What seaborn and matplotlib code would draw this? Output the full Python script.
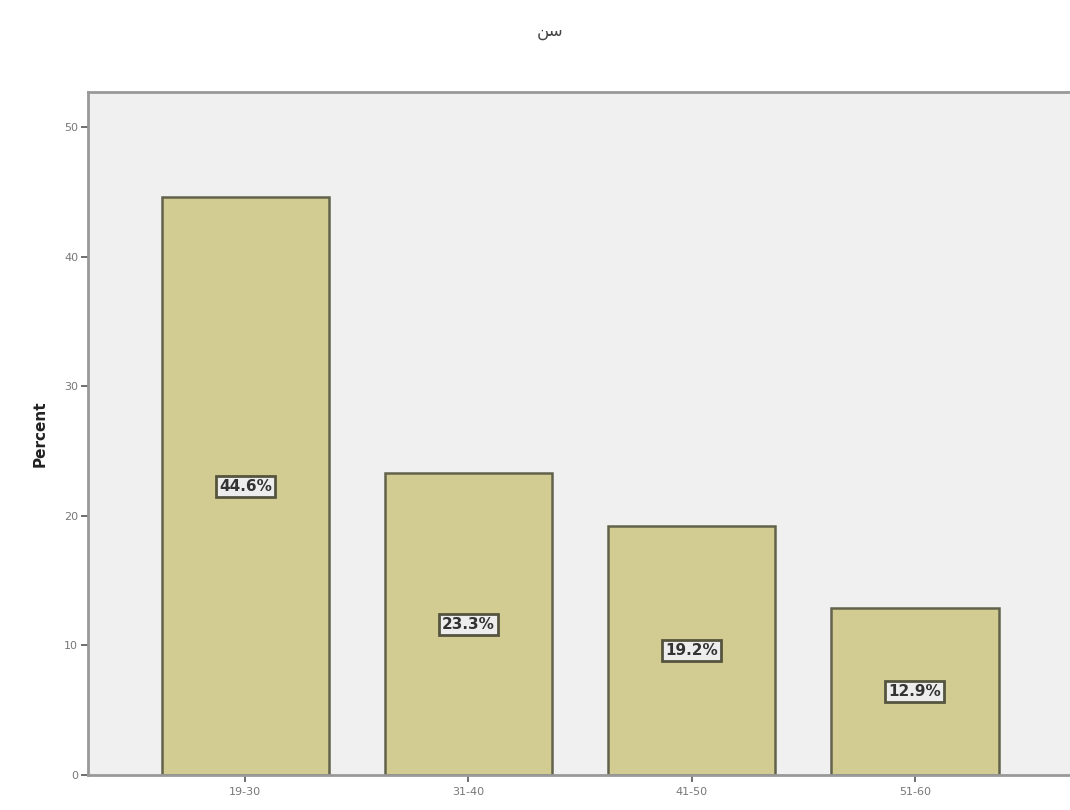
import pandas as pd
import matplotlib.pyplot as plt
import seaborn as sns

# Data
age_groups = ["19-30", "31-40", "41-50", "51-60"]
percents = [44.6, 23.3, 19.2, 12.9]
chart_title = "سن"
y_label = "Percent"


def shape_arabic(text):
    # matplotlib has no Arabic shaping: swap to presentation forms, reversed for LTR drawing
    forms = {"س": ("\uFEB1", "\uFEB3", "\uFEB4", "\uFEB2"),
             "ن": ("\uFEE5", "\uFEE7", "\uFEE8", "\uFEE6")}
    out = []
    for i, ch in enumerate(text):
        iso, ini, med, fin = forms[ch]
        prev_join = i > 0
        next_join = i < len(text) - 1
        if prev_join and next_join:
            out.append(med)
        elif prev_join:
            out.append(fin)
        elif next_join:
            out.append(ini)
        else:
            out.append(iso)
    return "".join(reversed(out))


df = pd.DataFrame({"age": age_groups, "percent": percents})

sns.set_style("white")
plt.rcParams["font.family"] = ["DejaVu Sans"]

fig = plt.figure(figsize=(10.7, 8.1), dpi=100)
ax = fig.add_axes([0.0822, 0.0432, 0.923, 0.8428])
ax.set_facecolor("#F0F0F0")

sns.barplot(data=df, x="age", y="percent", color="#D2CC92", width=0.75,
            edgecolor="#62624C", linewidth=1.8, saturation=1, ax=ax)

for i, v in enumerate(percents):
    ax.text(i, v / 2, f"{v:.1f}%", ha="center", va="center", fontsize=11,
            fontweight="bold", color="#333333",
            bbox=dict(boxstyle="square,pad=0.2", facecolor="#EDEDED",
                      edgecolor="#55553F", linewidth=2))

ax.set_xlim(-0.705, 3.72)
ax.set_ylim(0, 52.7)
ax.set_yticks([0, 10, 20, 30, 40, 50])
ax.tick_params(axis="both", bottom=True, left=True, direction="out", length=5,
               width=1.2, color="#555555", labelsize=8, labelcolor="#777777")
ax.tick_params(axis="y", pad=2)
ax.set_xlabel("")
ax.set_ylabel(y_label, fontsize=11, fontweight="bold", color="#222222", labelpad=12)

for s in ax.spines.values():
    s.set_color("#999999")
    s.set_linewidth(2)

fig.text(0.514, 0.962, shape_arabic(chart_title), ha="center", va="center",
         fontsize=12, color="#444444")

fig.savefig("out.png", dpi=100)
